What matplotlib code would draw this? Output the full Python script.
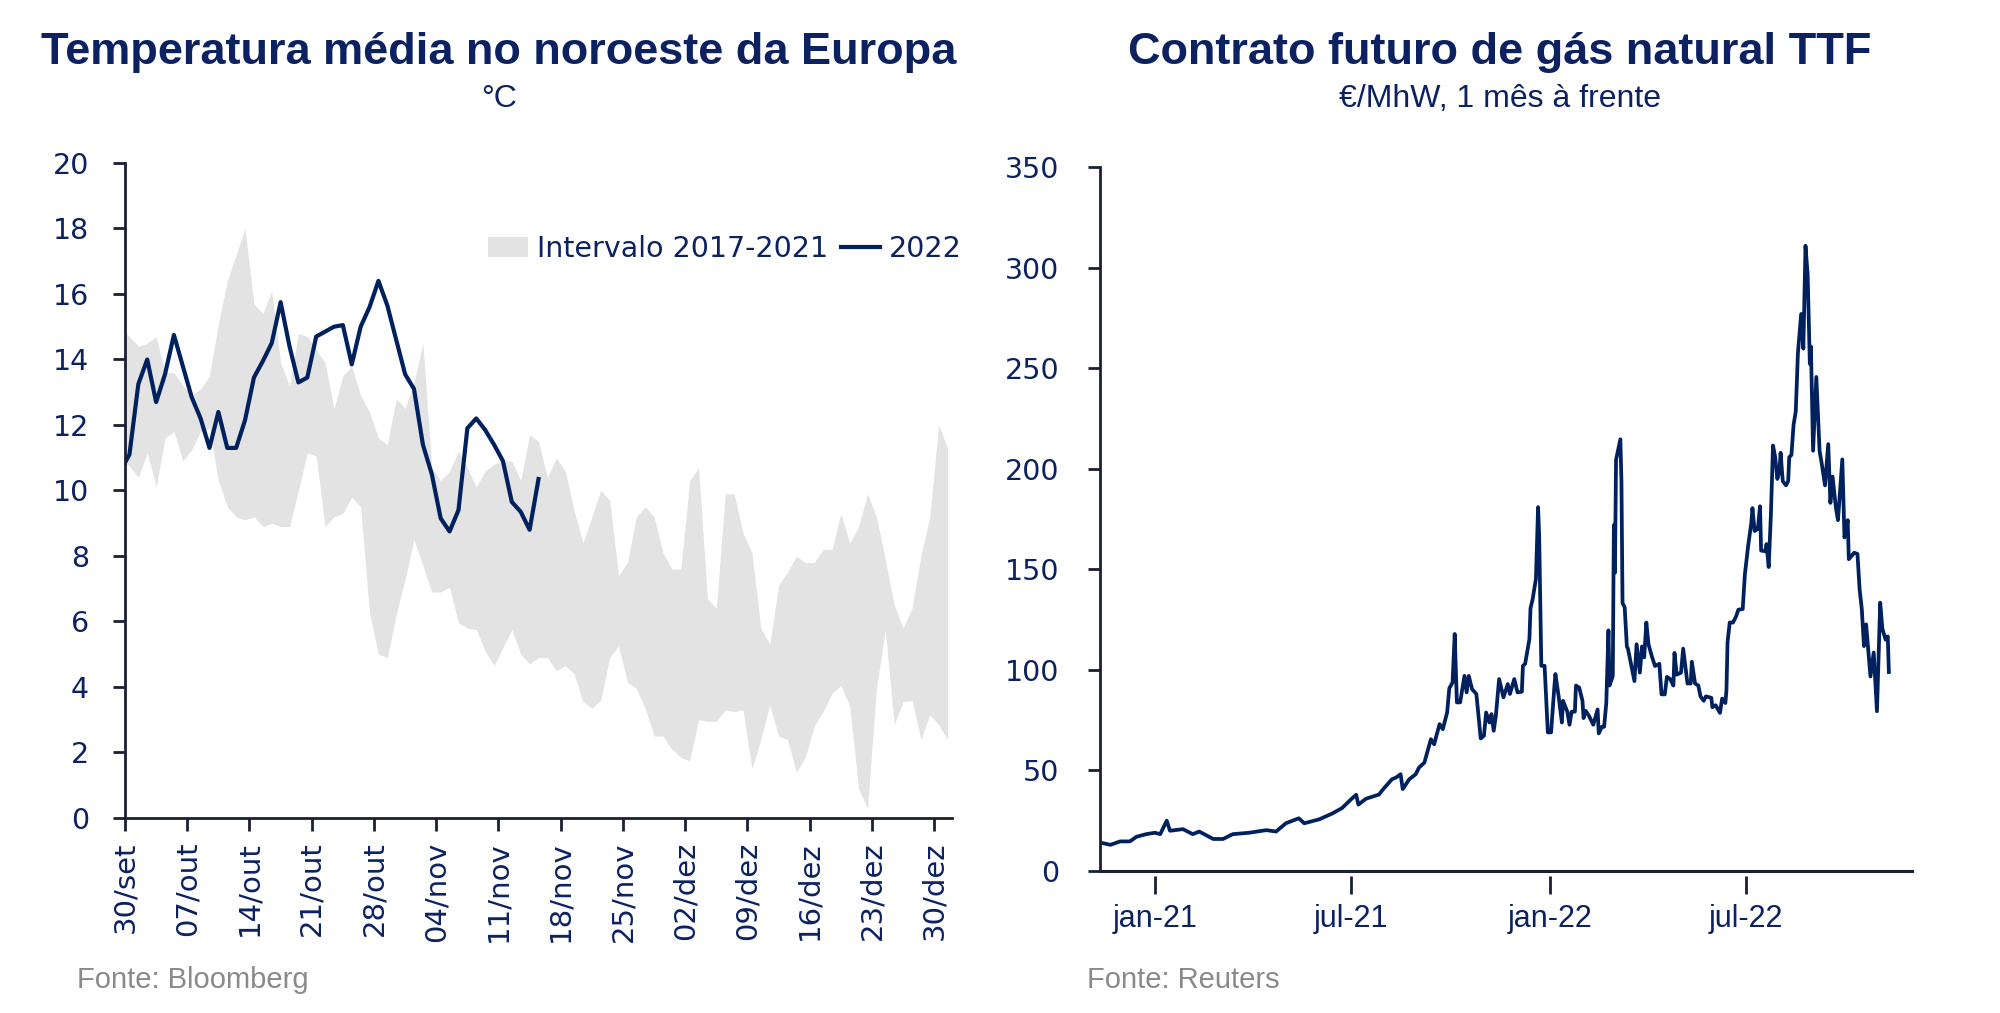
import pandas as pd
import matplotlib
matplotlib.use('Agg')
import matplotlib.pyplot as plt
from matplotlib.patches import Patch
from matplotlib.lines import Line2D

NAVY = '#0b2161'
LINE = '#00215e'
AXIS = '#1b1f33'
BAND = '#e3e3e3'
GREY = '#8a8a8a'

WIDE = ['DejaVu Sans']
PLAIN = ['Liberation Sans', 'DejaVu Sans']

# --- temperatura: dados diarios a partir de 29/set (meio-dia)
temp_start = '2022-09-29 12:00'
band_high = [15.0,
             14.7, 14.4, 14.5, 14.7, 13.6, 13.6, 13.2, 12.9, 13.1, 13.5,
             15.1, 16.4, 17.2, 18.0, 15.7, 15.4, 16.1, 13.9, 13.2, 14.8,
             14.7, 14.3, 13.9, 12.5, 13.5, 13.8, 12.9, 12.4, 11.6, 11.4,
             12.8, 12.5, 13.3, 14.5, 10.7, 10.3, 10.6, 11.2, 10.7, 10.1,
             10.6, 10.8, 10.9, 10.9, 10.3, 11.7, 11.5,
             10.4, 11.0, 10.6, 9.4, 8.4, 9.2, 10.0, 9.7, 7.4, 7.8,
             9.2, 9.5, 9.2, 8.1, 7.6, 7.6, 10.3, 10.7, 6.7, 6.4,
             9.9, 9.9, 8.7, 8.1, 5.8, 5.3, 7.1, 7.5, 8.0, 7.8,
             7.8, 8.2, 8.2, 9.3, 8.4, 8.9, 9.9, 9.2, 7.9, 6.5,
             5.8, 6.4, 8.0, 9.2, 12.0, 11.3]
band_low = [10.9,
            10.75, 10.4, 11.15, 10.1, 11.6, 11.8, 10.9, 11.25, 11.8, 11.9,
            10.3, 9.5, 9.2, 9.1, 9.2, 8.9, 9.0, 8.9, 8.9, 10.0,
            11.15, 11.05, 8.9, 9.2, 9.3, 9.8, 9.5, 6.25, 5.0, 4.9,
            6.2, 7.3, 8.5, 7.7, 6.9, 6.9, 7.05, 5.95, 5.8, 5.75,
            5.1, 4.65, 5.2, 5.75, 5.0, 4.7, 4.9,
            4.9, 4.5, 4.65, 4.4, 3.55, 3.35, 3.6, 4.9, 5.25, 4.15,
            3.95, 3.35, 2.5, 2.5, 2.1, 1.85, 1.75, 3.0, 2.95, 2.95,
            3.3, 3.25, 3.3, 1.5, 2.4, 3.45, 2.5, 2.4, 1.4, 1.85,
            2.8, 3.25, 3.8, 4.05, 3.4, 0.9, 0.3, 3.95, 5.75, 2.85,
            3.55, 3.6, 2.4, 3.15, 2.85, 2.4]
temp_2022 = [10.6,
             11.1, 13.25, 14.0, 12.7, 13.55, 14.75, 13.8, 12.85, 12.2, 11.3,
             12.4, 11.3, 11.3, 12.15, 13.45, 13.95, 14.5, 15.75, 14.4, 13.3,
             13.45, 14.7, 14.85, 15.0, 15.05, 13.85, 15.0, 15.6, 16.4, 15.65,
             14.6, 13.55, 13.1, 11.4, 10.5, 9.15, 8.75, 9.4, 11.9, 12.2,
             11.85, 11.4, 10.9, 9.65, 9.35, 8.8, 10.35]
temp_tick_labels = ['30/set', '07/out', '14/out', '21/out', '28/out', '04/nov', '11/nov',
                    '18/nov', '25/nov', '02/dez', '09/dez', '16/dez', '23/dez', '30/dez']

# --- TTF, 1 mes a frente
ttf_dates = [
    '2020-11-11', '2020-11-21', '2020-11-30', '2020-12-09', '2020-12-15', '2020-12-24',
    '2021-01-01', '2021-01-06', '2021-01-12', '2021-01-15', '2021-01-27', '2021-02-05',
    '2021-02-11', '2021-02-24', '2021-03-05', '2021-03-14', '2021-03-29', '2021-04-14',
    '2021-04-23', '2021-05-02', '2021-05-14', '2021-05-19', '2021-06-02', '2021-06-14',
    '2021-06-23', '2021-07-01', '2021-07-06', '2021-07-08', '2021-07-15', '2021-07-27',
    '2021-07-31', '2021-08-08', '2021-08-12', '2021-08-16', '2021-08-18', '2021-08-24',
    '2021-08-30', '2021-09-02', '2021-09-07', '2021-09-13', '2021-09-16', '2021-09-21',
    '2021-09-24', '2021-09-28', '2021-09-30', '2021-10-03', '2021-10-05', '2021-10-07',
    '2021-10-10', '2021-10-14', '2021-10-16', '2021-10-18', '2021-10-21', '2021-10-25',
    '2021-10-29', '2021-11-01', '2021-11-03', '2021-11-06', '2021-11-08', '2021-11-10',
    '2021-11-12', '2021-11-15', '2021-11-19', '2021-11-23', '2021-11-25', '2021-11-29',
    '2021-12-02', '2021-12-06', '2021-12-07', '2021-12-09', '2021-12-13', '2021-12-14',
    '2021-12-16', '2021-12-19', '2021-12-21', '2021-12-22', '2021-12-24', '2021-12-27',
    '2021-12-30', '2022-01-02', '2022-01-05', '2022-01-06', '2022-01-09', '2022-01-12',
    '2022-01-13', '2022-01-17', '2022-01-19', '2022-01-21', '2022-01-24', '2022-01-25',
    '2022-01-28', '2022-01-31', '2022-02-01', '2022-02-03', '2022-02-06', '2022-02-10',
    '2022-02-14', '2022-02-15', '2022-02-18', '2022-02-20', '2022-02-22', '2022-02-24',
    '2022-02-25', '2022-02-28', '2022-03-01', '2022-03-02', '2022-03-03', '2022-03-07',
    '2022-03-08', '2022-03-09', '2022-03-11', '2022-03-13', '2022-03-14', '2022-03-16',
    '2022-03-20', '2022-03-22', '2022-03-25', '2022-03-27', '2022-03-29', '2022-03-31',
    '2022-04-02', '2022-04-05', '2022-04-08', '2022-04-12', '2022-04-14', '2022-04-17',
    '2022-04-19', '2022-04-22', '2022-04-25', '2022-04-26', '2022-04-28', '2022-05-02',
    '2022-05-04', '2022-05-08', '2022-05-11', '2022-05-12', '2022-05-15', '2022-05-18',
    '2022-05-20', '2022-05-23', '2022-05-25', '2022-05-30', '2022-05-31', '2022-06-03',
    '2022-06-07', '2022-06-09', '2022-06-12', '2022-06-13', '2022-06-14', '2022-06-16',
    '2022-06-19', '2022-06-22', '2022-06-24', '2022-06-28', '2022-06-30', '2022-07-03',
    '2022-07-06', '2022-07-07', '2022-07-09', '2022-07-12', '2022-07-14', '2022-07-15',
    '2022-07-19', '2022-07-20', '2022-07-22', '2022-07-24', '2022-07-26', '2022-07-28',
    '2022-07-30', '2022-08-01', '2022-08-02', '2022-08-04', '2022-08-07', '2022-08-09',
    '2022-08-10', '2022-08-12', '2022-08-14', '2022-08-16', '2022-08-18', '2022-08-21',
    '2022-08-23', '2022-08-25', '2022-08-27', '2022-08-29', '2022-08-30', '2022-09-01',
    '2022-09-04', '2022-09-07', '2022-09-09', '2022-09-12', '2022-09-15', '2022-09-17',
    '2022-09-19', '2022-09-22', '2022-09-24', '2022-09-28', '2022-09-30', '2022-10-03',
    '2022-10-04', '2022-10-09', '2022-10-12', '2022-10-14', '2022-10-16', '2022-10-18',
    '2022-10-20', '2022-10-24', '2022-10-27', '2022-10-30', '2022-11-02', '2022-11-04',
    '2022-11-07', '2022-11-09', '2022-11-10']
ttf_values = [
    14.2, 13.0, 14.7, 14.7, 17.0, 18.3,
    19.0, 18.3, 25.0, 20.0, 20.8, 18.3,
    19.6, 15.9, 15.9, 18.3, 19.0, 20.3,
    19.6, 23.7, 26.2, 23.7, 25.7, 28.6,
    31.3, 35.5, 37.9, 33.0, 35.9, 38.0,
    40.7, 45.6, 46.5, 48.1, 40.7, 45.6,
    48.1, 51.4, 53.9, 65.5, 63.0, 73.0,
    70.5, 78.8, 90.8, 93.7, 117.8, 83.8,
    83.8, 97.0, 88.8, 97.0, 90.4, 88.0,
    65.9, 67.2, 78.8, 73.8, 78.0, 69.7,
    77.2, 95.4, 86.3, 92.9, 88.0, 95.4,
    88.8, 89.1, 102.0, 102.9, 115.3, 130.6,
    135.2, 145.2, 180.9, 166.7, 102.0, 102.0,
    68.9, 68.9, 91.3, 97.9, 86.8, 73.8,
    84.6, 79.2, 72.7, 79.2, 79.2, 92.2,
    91.1, 84.6, 76.0, 79.6, 77.1, 72.7,
    80.3, 68.4, 71.7, 71.7, 83.5, 119.6,
    92.2, 96.9, 172.0, 148.3, 204.4, 214.6,
    193.6, 133.2, 131.0, 111.6, 110.5, 105.2,
    94.4, 112.7, 98.6, 111.6, 106.2, 123.5,
    112.7, 106.8, 101.9, 103.0, 87.8, 87.8,
    96.5, 95.4, 92.2, 108.4, 97.6, 98.6,
    110.5, 93.2, 93.2, 104.0, 93.2, 92.2,
    86.8, 84.6, 86.8, 86.1, 81.4, 82.4,
    78.6, 85.7, 83.5, 90.0, 113.7, 123.5,
    123.5, 126.7, 129.9, 130.2, 147.4, 161.5,
    173.3, 180.4, 169.0, 170.1, 181.3, 159.3,
    158.9, 162.5, 151.1, 176.6, 211.5, 205.7,
    194.9, 199.2, 207.9, 193.8, 191.7, 193.8,
    205.7, 206.8, 221.9, 228.4, 257.5, 276.9,
    259.7, 310.8, 296.4, 252.1, 260.7, 208.9,
    245.6, 208.9, 202.5, 191.7, 212.2, 183.0,
    196.0, 180.9, 174.4, 204.6, 165.8, 174.4,
    155.0, 158.2, 157.6, 139.9, 130.2, 111.8,
    122.6, 96.7, 108.6, 79.4, 133.4, 120.4,
    115.0, 116.6, 98.9]
ttf_ticks = ['2021-01-01', '2021-07-01', '2022-01-01', '2022-07-01']
ttf_tick_labels = ['jan-21', 'jul-21', 'jan-22', 'jul-22']


def style_axis(ax):
    for side in ['top', 'right']:
        ax.spines[side].set_visible(False)
    for side in ['left', 'bottom']:
        ax.spines[side].set_color(AXIS)
        ax.spines[side].set_linewidth(2)
    ax.tick_params(colors=AXIS, labelcolor=NAVY, width=2, direction='out')


fig = plt.figure(figsize=(20, 10.13), dpi=100)

# ---------- painel esquerdo
ax1 = fig.add_axes([0.0625, 0.1925, 0.4135, 0.6466])
style_axis(ax1)

band_days = pd.date_range(temp_start, periods=len(band_high), freq='D')
line_days = pd.date_range(temp_start, periods=len(temp_2022), freq='D')
ax1.fill_between(band_days, band_low, band_high, color=BAND, lw=0)
ax1.plot(line_days, temp_2022, color=LINE, lw=3.0)

ax1.set_xlim(pd.Timestamp('2022-09-30'), pd.Timestamp('2023-01-01'))
ax1.set_ylim(0, 20)
ax1.set_yticks(range(0, 21, 2))
ax1.tick_params(axis='y', length=9, pad=17)
for lab in ax1.get_yticklabels():
    lab.set_family(WIDE)
    lab.set_fontsize(20.5)

temp_ticks = pd.date_range('2022-09-30', periods=len(temp_tick_labels), freq='7D')
ax1.set_xticks(temp_ticks)
ax1.set_xticklabels(temp_tick_labels, rotation=90, family=WIDE, fontsize=21)
ax1.tick_params(axis='x', length=9, pad=8)

handles = [Patch(facecolor=BAND, edgecolor='none'), Line2D([], [], color=LINE, lw=3.0)]
fig.legend(handles, ['Intervalo 2017-2021', '2022'], loc='center left',
           bbox_to_anchor=(0.237, 0.754), ncol=2, frameon=False, borderpad=0,
           handlelength=1.4, handletextpad=0.3, columnspacing=0.45,
           prop={'family': WIDE, 'size': 20.5}, labelcolor=NAVY)

# ---------- painel direito
ax2 = fig.add_axes([0.5498, 0.1402, 0.406, 0.695])
style_axis(ax2)
ax2.plot(pd.to_datetime(ttf_dates), ttf_values, color=LINE, lw=2.7)
ax2.set_xlim(pd.Timestamp('2020-11-11'), pd.Timestamp('2022-12-01'))
ax2.set_ylim(0, 350)
ax2.set_yticks(range(0, 351, 50))
ax2.tick_params(axis='y', length=9, pad=20)
for lab in ax2.get_yticklabels():
    lab.set_family(WIDE)
    lab.set_fontsize(20.5)

# eixo x: linha em zero e marcas afastadas da linha
ax2.spines['bottom'].set_position(('outward', 3.5))
ax2.spines['bottom'].set_visible(False)
ax2.axhline(0, color=AXIS, lw=2.2, clip_on=False)
ax2.set_xticks(pd.to_datetime(ttf_ticks))
ax2.set_xticklabels(ttf_tick_labels, family=PLAIN, fontsize=22)
ax2.tick_params(axis='x', length=13, pad=7)

# ---------- titulos e fontes
fig.text(0.2495, 0.937, 'Temperatura média no noroeste da Europa', ha='center',
         va='baseline', fontsize=32.5, weight='bold', family=PLAIN, color=NAVY)
fig.text(0.2495, 0.894, '°C', ha='center', va='baseline', fontsize=23,
         family=PLAIN, color=NAVY)
fig.text(0.75, 0.937, 'Contrato futuro de gás natural TTF', ha='center',
         va='baseline', fontsize=32.5, weight='bold', family=PLAIN, color=NAVY)
fig.text(0.75, 0.894, '€/MhW, 1 mês à frente', ha='center', va='baseline',
         fontsize=23, family=PLAIN, color=NAVY)

fig.text(0.0385, 0.0242, 'Fonte: Bloomberg', ha='left', va='baseline',
         fontsize=21, family=PLAIN, color=GREY)
fig.text(0.5435, 0.0242, 'Fonte: Reuters', ha='left', va='baseline',
         fontsize=21, family=PLAIN, color=GREY)

fig.savefig('out.png', dpi=100, facecolor='white')
